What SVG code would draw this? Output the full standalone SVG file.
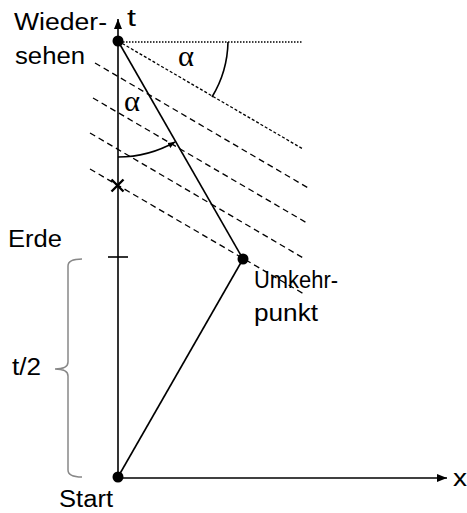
<svg xmlns="http://www.w3.org/2000/svg" width="467" height="513" viewBox="0 0 467 513">
<defs>
<style>
.ax{stroke:#000;stroke-width:1.6;fill:none}
.sl{stroke:#000;stroke-width:1.6;fill:none}
.dash{stroke:#000;stroke-width:1.3;stroke-dasharray:6 4;fill:none}
.fine{stroke:#000;stroke-width:1.3;stroke-dasharray:3 2;fill:none}
.dot{stroke:#000;stroke-width:1.4;stroke-dasharray:1.5 1.5;fill:none}
.lbl{font-family:"Liberation Sans",Arial,sans-serif;font-size:23px;fill:#000}
.gr{font-family:"Liberation Serif","Times New Roman",serif;font-size:30px;fill:#000}
.brace{stroke:#888;stroke-width:1.5;fill:none}
</style>
<marker id="ah" viewBox="0 0 10 10" refX="10" refY="5" markerWidth="10" markerHeight="10" markerUnits="userSpaceOnUse" orient="auto">
<path d="M0,1 L10,5 L0,9 Z" fill="#000"/>
</marker>
<marker id="sah" viewBox="0 0 10 10" refX="10" refY="5" markerWidth="7" markerHeight="7" markerUnits="userSpaceOnUse" orient="auto">
<path d="M0,1 L10,5 L0,9 Z" fill="#000"/>
</marker>
</defs>
<g id="connectors">
<line class="ax" x1="118" y1="477" x2="118" y2="19" marker-end="url(#ah)"/>
<line class="ax" x1="118" y1="478" x2="447" y2="478" marker-end="url(#ah)"/>
<line class="dot" x1="123" y1="42" x2="302" y2="42"/>
<line class="fine" x1="118" y1="41" x2="303" y2="149"/>
<line class="dash" x1="95" y1="63" x2="310" y2="189"/>
<line class="dash" x1="93" y1="98" x2="307" y2="223"/>
<line class="dash" x1="90" y1="133" x2="305" y2="259"/>
<line class="dash" x1="90" y1="169" x2="304" y2="294"/>
<line class="sl" x1="118" y1="41" x2="243" y2="259"/>
<line class="sl" x1="243" y1="259" x2="118" y2="477"/>
<path class="sl" d="M228,42 A110,110 0 0 1 212,97"/>
<path class="sl" d="M118,157 A116,116 0 0 0 175,142" marker-end="url(#sah)"/>
<line class="ax" x1="108" y1="257" x2="128" y2="257"/>
<path class="brace" d="M82,259 Q68,259 68,266 L68,362 Q68,369 55,369 Q68,369 68,376 L68,470 Q68,477 82,477"/>
</g>
<g id="cross"><path d="M111.5,179.5 L123.5,191.5 M123.5,179.5 L111.5,191.5" stroke="#000" stroke-width="2.4"/></g>
<g id="wiedersehen">
<circle cx="118" cy="41" r="5.5" fill="#000"/>
<text class="lbl" x="14" y="30" textLength="93" lengthAdjust="spacingAndGlyphs">Wieder-</text>
<text class="lbl" x="15" y="64" textLength="70" lengthAdjust="spacingAndGlyphs">sehen</text>
</g>
<g id="umkehrpunkt">
<circle cx="243" cy="259" r="5.5" fill="#000"/>
<text class="lbl" x="254" y="288" textLength="84" lengthAdjust="spacingAndGlyphs">Umkehr-</text>
<text class="lbl" x="254" y="321" textLength="64" lengthAdjust="spacingAndGlyphs">punkt</text>
</g>
<g id="start">
<circle cx="118" cy="477" r="5.5" fill="#000"/>
<text class="lbl" x="59" y="507" textLength="54" lengthAdjust="spacingAndGlyphs">Start</text>
</g>
<g id="labels">
<text class="lbl" x="127" y="26" textLength="9" lengthAdjust="spacingAndGlyphs">t</text>
<text class="lbl" x="453" y="486" textLength="14" lengthAdjust="spacingAndGlyphs">x</text>
<text class="lbl" x="8" y="247" textLength="54" lengthAdjust="spacingAndGlyphs">Erde</text>
<text class="lbl" x="12" y="375" textLength="29" lengthAdjust="spacingAndGlyphs">t/2</text>
<text class="gr" x="178" y="66" textLength="16" lengthAdjust="spacingAndGlyphs">α</text>
<text class="gr" x="124" y="111" textLength="16" lengthAdjust="spacingAndGlyphs">α</text>
</g>
</svg>
